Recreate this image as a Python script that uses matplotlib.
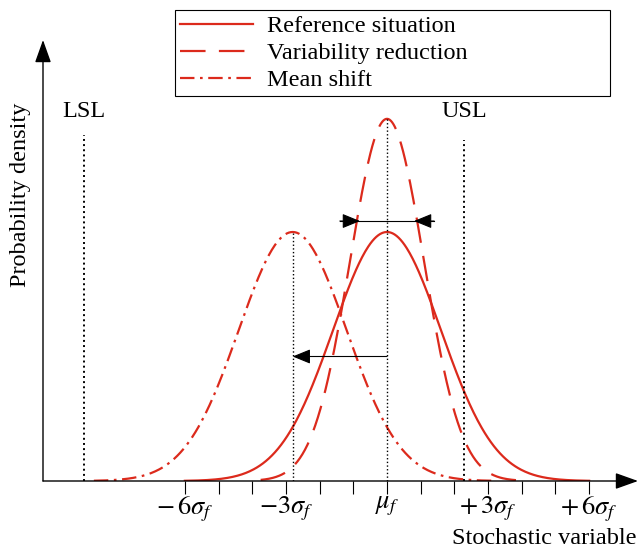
import numpy as np
import matplotlib
matplotlib.use("Agg")
import matplotlib.pyplot as plt

plt.rcParams['font.family'] = ['Liberation Serif', 'DejaVu Serif']
plt.rcParams['mathtext.fontset'] = 'stix'

# curves: (label, mean, sigma, extent) in units of sigma_f
labels = ["Reference situation", "Variability reduction", "Mean shift"]
means = [0.0, 0.0, -2.8]
sigmas = [1.6, 1.1, 1.6]
x_from = [-6.0, -3.75, -8.7]
x_to = [6.0, 3.85, 3.2]

lsl, usl = -9.0, 2.3
tick_pos = np.arange(-6, 7)
tick_lab = {-6: r"$-\,6\sigma_f$", -3: r"$-3\sigma_f$", 0: r"$\mu_f$",
            3: r"$+\,3\sigma_f$", 6: r"$+\,6\sigma_f$"}

red = '#dc2a1c'
styles = ['-', (0, (11.5, 6)), (0, (6.5, 2.5, 1.2, 2.5))]

fig = plt.figure(figsize=(6.4, 5.49), dpi=100)
ax = fig.add_axes([43/640, 68/549, 595/640, 441/549])
ax.set_xlim(-10.21, 7.45)
ax.set_ylim(0, 441/249)

ref_sig = sigmas[0]
for lab, m, s, a, b, ls in zip(labels, means, sigmas, x_from, x_to, styles):
    x = np.linspace(a, b, 400)
    y = (ref_sig / s) * np.exp(-0.5 * ((x - m) / s) ** 2)
    ax.plot(x, y, color=red, lw=1.6, ls=ls, label=lab)

# vertical dotted lines
ax.plot([lsl, lsl], [0, 1.39], ls=':', color='black', lw=1.4)
ax.plot([usl, usl], [0, 1.37], ls=':', color='black', lw=1.4)
ax.plot([0, 0], [0, ref_sig / sigmas[1]], ls=':', color='black', lw=1.0)
ax.plot([means[2], means[2]], [0, 1.0], ls=':', color='black', lw=1.0)
ax.text(lsl, 1.44, "LSL", ha='center', va='bottom', fontsize=17.5)
ax.text(usl, 1.44, "USL", ha='center', va='bottom', fontsize=17.5)

# width arrows
yw = 1.044
ax.plot([-1.4, 1.4], [yw, yw], color='black', lw=0.8)
hp = dict(arrowstyle='-|>,head_length=1.1,head_width=0.45', color='black', lw=0.8,
          shrinkA=0, shrinkB=0)
ax.annotate('', xy=(-0.8, yw), xytext=(-1.4, yw), arrowprops=hp)
ax.annotate('', xy=(0.8, yw), xytext=(1.4, yw), arrowprops=hp)
# mean shift arrow
ax.annotate('', xy=(means[2], 0.5), xytext=(0, 0.5), arrowprops=hp)

# axes with arrows
for s in ax.spines.values():
    s.set_visible(False)
ap = dict(arrowstyle='-|>,head_length=1.4,head_width=0.5', color='black', lw=1.0,
          shrinkA=0, shrinkB=0)
ax.annotate('', xy=(1, 0), xytext=(0, 0), xycoords='axes fraction', arrowprops=ap)
ax.annotate('', xy=(0, 1), xytext=(0, 0), xycoords='axes fraction', arrowprops=ap)

ax.set_yticks([])
ax.set_xticks(tick_pos)
ax.set_xticklabels([tick_lab.get(int(t), '') for t in tick_pos], fontsize=19)
ax.tick_params(axis='x', direction='out', length=9, width=0.8, pad=1)

fig.text(636/640, 1 - 538/549, "Stochastic variable", ha='right', va='center', fontsize=17.5)
fig.text(21/640, 1 - 195/549, "Probability density", ha='center', va='center',
         rotation=90, fontsize=17.5)

leg = ax.legend(loc='upper left', bbox_to_anchor=(175/640, 1 - 99/549, 435/640, 89/549),
                bbox_transform=fig.transFigure, mode='expand', fontsize=17.5, frameon=True,
                fancybox=False, framealpha=1, handlelength=3.0, borderpad=0.22,
                labelspacing=0.2, handletextpad=0.55, borderaxespad=0)
leg.get_frame().set_edgecolor('black')
leg.get_frame().set_linewidth(0.8)

fig.savefig("out.png", dpi=100)
